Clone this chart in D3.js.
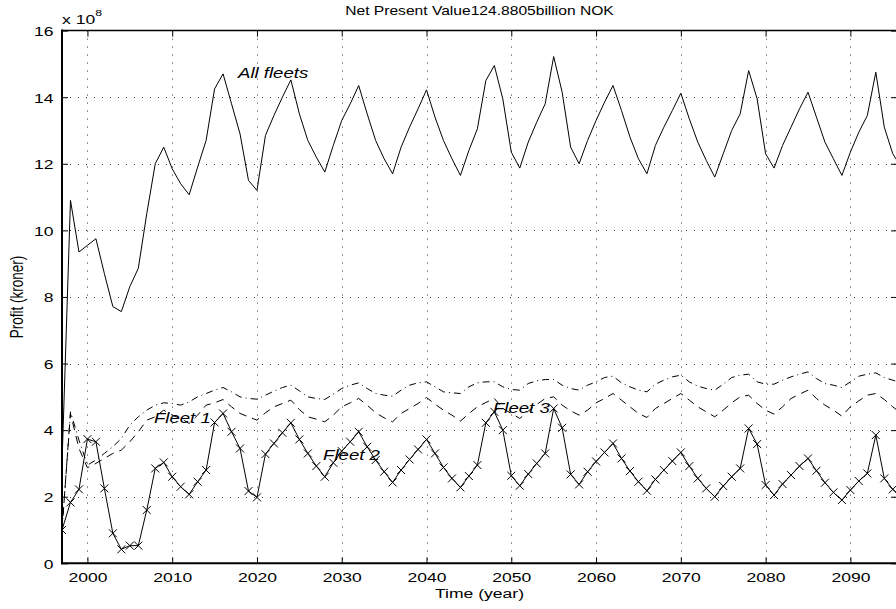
<!DOCTYPE html>
<html>
<head>
<meta charset="utf-8">
<script src="https://cdn.jsdelivr.net/npm/d3@7"></script>
<style>
  body { margin: 0; background: #fff; overflow: hidden; }
  svg { display: block; }
  text { font-family: "Liberation Sans", Arial, Helvetica, sans-serif; fill: #000; }
</style>
</head>
<body>
<svg id="chart" width="896" height="609"></svg>
<script>
// years 1997 .. 2096
const startYear = 1997;

// all fleets (x 1e8 kroner)
const allFleets = [3.0, 10.9, 9.35, 9.55, 9.75, 8.7, 7.71, 7.56, 8.31, 8.86,
  10.5, 12.0, 12.5, 11.85, 11.4, 11.07, 11.9, 12.7, 14.25, 14.7,
  13.8, 12.9, 11.5, 11.2, 12.85, 13.45, 14.0, 14.52, 13.5, 12.7,
  12.2, 11.75, 12.55, 13.3, 13.8, 14.35, 13.5, 12.7, 12.15, 11.7,
  12.5, 13.1, 13.65, 14.22, 13.4, 12.7, 12.15, 11.65, 12.4, 13.05,
  14.5, 14.95, 13.95, 12.35, 11.87, 12.65, 13.25, 13.8, 15.22, 14.15,
  12.5, 12.0, 12.7, 13.3, 13.85, 14.35, 13.6, 12.8, 12.15, 11.7,
  12.55, 13.1, 13.6, 14.12, 13.35, 12.65, 12.1, 11.6, 12.3, 13.0,
  13.5, 14.8, 13.95, 12.3, 11.87, 12.55, 13.1, 13.65, 14.15, 13.4,
  12.65, 12.15, 11.65, 12.35, 12.95, 13.45, 14.75, 13.1, 12.3, 11.9];

// fleet 1 (dash-dot)
const fleet1 = [1.0, 4.55, 3.7, 2.95, 3.1, 3.3, 3.5, 3.75, 4.15, 4.4,
  4.6, 4.75, 4.82, 4.8, 4.75, 4.85, 5.0, 5.1, 5.2, 5.28,
  5.15, 5.0, 4.95, 4.93, 5.05, 5.17, 5.28, 5.35, 5.18, 5.0,
  4.95, 4.92, 5.08, 5.25, 5.35, 5.42, 5.25, 5.1, 5.05, 5.02,
  5.2, 5.35, 5.42, 5.45, 5.3, 5.15, 5.12, 5.1, 5.3, 5.42,
  5.45, 5.45, 5.3, 5.22, 5.2, 5.4, 5.48, 5.52, 5.52, 5.35,
  5.25, 5.2, 5.35, 5.45, 5.58, 5.62, 5.42, 5.3, 5.2, 5.15,
  5.38, 5.5, 5.6, 5.65, 5.45, 5.32, 5.25, 5.2, 5.38, 5.58,
  5.65, 5.68, 5.45, 5.38, 5.38, 5.5, 5.6, 5.68, 5.75, 5.55,
  5.4, 5.35, 5.28, 5.45, 5.62, 5.68, 5.72, 5.58, 5.5, 5.42];

// fleet 2 (x markers)
const fleet2 = [1.0, 1.83, 2.22, 3.73, 3.65, 2.25, 0.9, 0.42, 0.53, 0.53,
  1.6, 2.85, 3.03, 2.6, 2.3, 2.07, 2.45, 2.8, 4.23, 4.5,
  3.95, 3.45, 2.17, 1.98, 3.28, 3.6, 3.92, 4.22, 3.72, 3.3,
  2.92, 2.6, 3.02, 3.37, 3.65, 3.95, 3.5, 3.1, 2.75, 2.43,
  2.8, 3.12, 3.42, 3.72, 3.3, 2.88, 2.55, 2.28, 2.62, 2.95,
  4.22, 4.55, 4.0, 2.63, 2.33, 2.68, 3.0, 3.3, 4.65, 4.07,
  2.67, 2.37, 2.75, 3.06, 3.33, 3.6, 3.15, 2.77, 2.45, 2.18,
  2.52, 2.8, 3.07, 3.33, 2.92, 2.55, 2.25, 2.0, 2.32, 2.6,
  2.85, 4.05, 3.58, 2.35, 2.05, 2.38, 2.65, 2.92, 3.15, 2.78,
  2.42, 2.13, 1.9, 2.2, 2.47, 2.7, 3.85, 2.55, 2.22, 2.0];

// fleet 3 (dashed)
const fleet3 = [1.0, 4.5, 3.45, 2.87, 3.0, 3.15, 3.3, 3.4, 3.65, 3.95,
  4.3, 4.4, 4.6, 4.45, 4.35, 4.2, 4.45, 4.75, 4.82, 4.92,
  4.7, 4.5, 4.4, 4.3, 4.52, 4.7, 4.8, 4.9, 4.62, 4.4,
  4.33, 4.25, 4.45, 4.7, 4.82, 4.95, 4.75, 4.52, 4.37, 4.25,
  4.5, 4.65, 4.8, 4.98, 4.78, 4.6, 4.45, 4.27, 4.5, 4.7,
  4.83, 4.95, 4.65, 4.5, 4.35, 4.57, 4.77, 4.95, 5.0, 4.75,
  4.58, 4.45, 4.6, 4.82, 4.95, 5.1, 4.9, 4.7, 4.5, 4.38,
  4.65, 4.8, 4.95, 5.1, 4.9, 4.7, 4.55, 4.4, 4.6, 4.82,
  5.0, 5.05, 4.8, 4.6, 4.48, 4.7, 4.95, 5.08, 5.2, 4.95,
  4.75, 4.6, 4.42, 4.7, 4.88, 5.05, 5.1, 4.92, 4.7, 4.5];

const xTicks = [2000, 2010, 2020, 2030, 2040, 2050, 2060, 2070, 2080, 2090];
const yTicks = [0, 2, 4, 6, 8, 10, 12, 14, 16];

const seriesLabels = [
  { text: "All fleets", year: 2017.76, value: 14.57 },
  { text: "Fleet 1", year: 2007.85, value: 4.21 },
  { text: "Fleet 2", year: 2027.8, value: 3.1 },
  { text: "Fleet 3", year: 2047.84, value: 4.52 }
];

const stretch = 1.3;   // text in the picture is wider than normal

const svg = d3.select("#chart");
const x = d3.scaleLinear().domain([1997, 2095.5]).range([62, 897]);
const y = d3.scaleLinear().domain([0, 16]).range([563.3, 30.6]);
const toPoints = arr => arr.map((v, i) => ({ year: startYear + i, v: v }));

svg.append("clipPath").attr("id", "plotclip")
  .append("rect")
  .attr("x", x(1997)).attr("y", y(16))
  .attr("width", x(2095.5) - x(1997)).attr("height", y(0) - y(16));

// grid, dotted
const grid = svg.append("g").attr("stroke", "#333").attr("stroke-width", 1)
  .attr("stroke-dasharray", "1,7");
grid.selectAll(".gx").data(xTicks).enter().append("line")
  .attr("x1", d => Math.round(x(d)) + 0.5).attr("x2", d => Math.round(x(d)) + 0.5)
  .attr("y1", y(16)).attr("y2", y(0));
grid.selectAll(".gy").data(yTicks.filter(d => d > 0 && d < 16)).enter().append("line")
  .attr("y1", d => Math.round(y(d)) + 0.5).attr("y2", d => Math.round(y(d)) + 0.5)
  .attr("x1", x(1997)).attr("x2", x(2095.5));

// lines
const line = d3.line().x(d => x(d.year)).y(d => y(d.v));
const plot = svg.append("g").attr("clip-path", "url(#plotclip)")
  .attr("fill", "none").attr("stroke", "#000").attr("stroke-width", 1);

plot.append("path").attr("d", line(toPoints(allFleets)));
plot.append("path").attr("d", line(toPoints(fleet1))).attr("stroke-dasharray", "7,4,1,4");
plot.append("path").attr("d", line(toPoints(fleet3))).attr("stroke-dasharray", "8,6");
plot.append("path").attr("d", line(toPoints(fleet2)));
plot.selectAll(".mk").data(toPoints(fleet2)).enter().append("path")
  .attr("d", "M-4,-4L4,4M-4,4L4,-4")
  .attr("transform", d => `translate(${x(d.year)},${y(d.v)})`);

// axes (ticks point inward)
const fmt = d3.format("d");
const gx = svg.append("g").attr("transform", `translate(0,${y(0)})`)
  .call(d3.axisBottom(x).tickValues(xTicks).tickSize(-6).tickFormat(fmt));
const gxTop = svg.append("g").attr("transform", `translate(0,${y(16)})`)
  .call(d3.axisTop(x).tickValues(xTicks).tickSize(-6).tickFormat(""));
const gy = svg.append("g").attr("transform", `translate(${x(1997)},0)`)
  .call(d3.axisLeft(y).tickValues(yTicks).tickSize(-6).tickFormat(fmt));
const gyRight = svg.append("g").attr("transform", `translate(${x(2095.5)},0)`)
  .call(d3.axisRight(y).tickValues(yTicks).tickSize(-6).tickFormat(""));

[gx, gxTop, gy, gyRight].forEach(g => {
  g.selectAll(".domain").remove();
  g.selectAll(".tick line").attr("stroke", "#000");
});

gx.selectAll("text")
  .attr("y", 19).attr("dy", null)
  .attr("transform", `scale(${stretch},1)`)
  .style("font-size", "13.5px").style("font-family", "Liberation Sans, Arial, sans-serif");
gy.selectAll("text")
  .attr("x", -8.5 / stretch).attr("dy", "0.36em")
  .attr("transform", `scale(${stretch},1)`)
  .style("font-size", "13.5px").style("font-family", "Liberation Sans, Arial, sans-serif");

// box
svg.append("line").attr("x1", x(1997)).attr("x2", x(2095.5)).attr("y1", y(16)).attr("y2", y(16))
  .attr("stroke", "#000").attr("stroke-width", 1.5);
svg.append("line").attr("x1", x(2095.5)).attr("x2", x(2095.5)).attr("y1", y(16)).attr("y2", y(0))
  .attr("stroke", "#000").attr("stroke-width", 1.5);
svg.append("line").attr("x1", x(1997) - 1).attr("x2", x(2095.5)).attr("y1", y(0)).attr("y2", y(0))
  .attr("stroke", "#000").attr("stroke-width", 2);
svg.append("line").attr("x1", x(1997)).attr("x2", x(1997)).attr("y1", y(16) - 1).attr("y2", y(0) + 1)
  .attr("stroke", "#000").attr("stroke-width", 2);

// series labels
svg.selectAll(".lbl").data(seriesLabels).enter().append("text")
  .attr("transform", d => `translate(${x(d.year)},${y(d.value)}) scale(1.24,1)`)
  .style("font-size", "15px").style("font-style", "italic")
  .attr("fill", "#111")
  .text(d => d.text);

// exponent
const expo = svg.append("text")
  .attr("transform", `translate(${x(1997)},24) scale(${stretch},1)`)
  .style("font-size", "13.5px");
expo.append("tspan").text("x 10");
expo.append("tspan").attr("dy", -8).style("font-size", "9.5px").text("8");

// title
svg.append("text")
  .attr("transform", `translate(${(x(1997) + x(2095.5)) / 2},15) scale(1.25,1)`)
  .attr("text-anchor", "middle")
  .style("font-size", "12.5px")
  .text("Net Present Value124.8805billion NOK");

// axis titles
svg.append("text")
  .attr("transform", `translate(${(x(1997) + x(2095.5)) / 2},598) scale(${stretch},1)`)
  .attr("text-anchor", "middle")
  .style("font-size", "13.5px")
  .text("Time (year)");

svg.append("text")
  .attr("transform", `translate(23,${(y(0) + y(16)) / 2}) scale(${stretch},1) rotate(-90)`)
  .attr("text-anchor", "middle")
  .style("font-size", "13.5px")
  .text("Profit (kroner)");
</script>
</body>
</html>
